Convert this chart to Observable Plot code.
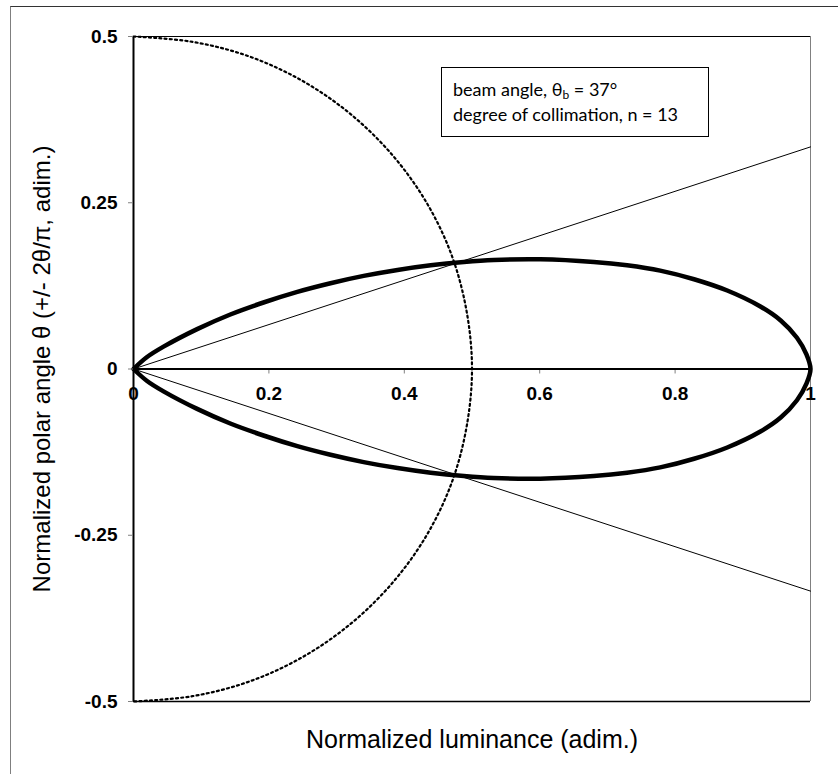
<!DOCTYPE html>
<html>
<head>
<meta charset="utf-8">
<script src="https://cdn.jsdelivr.net/npm/d3@7"></script>
<script src="https://cdn.jsdelivr.net/npm/@observablehq/plot@0.6"></script>
<style>
  html, body { margin: 0; padding: 0; background: #fff; overflow: hidden; }
  #wrap { position: relative; width: 838px; height: 774px; }
  #outer { position: absolute; left: 10px; top: 6px; width: 900px; height: 900px;
           border-left: 1px solid #7f7f7f; border-top: 1px solid #333; box-sizing: border-box; pointer-events: none; }
  #legend { position: absolute; left: 441px; top: 67px; width: 268px; height: 70px; box-sizing: border-box;
            border: 1px solid #000; background: #fff; font-family: Lato, "Open Sans", sans-serif; font-size: 18px;
            color: #000; padding: 9px 0 0 11px; line-height: 25px; }
  #legend sub { font-size: 12px; vertical-align: -3px; line-height: 0; }
  svg g[aria-label="y-axis tick"] { stroke: #808080; }
</style>
</head>
<body>
<div id="wrap">
  <div id="outer"></div>
  <div id="chart"></div>
  <div id="legend"></div>
</div>
<script>
// ---- data ----
const xTicks = [0, 0.2, 0.4, 0.6, 0.8, 1];
const yTicks = [0.5, 0.25, 0, -0.25, -0.5];
const xTitle = "Normalized luminance (adim.)";
const yTitle = "Normalized polar angle θ (+/- 2θ/π, adim.)";
const beamAngle = 37;
const collimation = 13;

// thick lobe, upper half (luminance x, normalized angle y)
const upperX = [0, 0.02, 0.045, 0.094, 0.143, 0.192, 0.242, 0.291, 0.340, 0.390, 0.439, 0.488, 0.532, 0.601, 0.680, 0.729, 0.778, 0.828, 0.877, 0.926, 0.956, 0.980, 0.994, 1.0];
const upperY = [0, 0.018, 0.034, 0.060, 0.082, 0.100, 0.116, 0.129, 0.140, 0.149, 0.156, 0.161, 0.164, 0.165, 0.161, 0.156, 0.148, 0.135, 0.118, 0.094, 0.073, 0.047, 0.022, 0];
// lower half
const lowerX = [0, 0.02, 0.045, 0.094, 0.143, 0.192, 0.242, 0.291, 0.340, 0.390, 0.439, 0.488, 0.532, 0.601, 0.680, 0.729, 0.778, 0.828, 0.877, 0.926, 0.956, 0.980, 0.994, 1.0];
const lowerY = [0, -0.018, -0.034, -0.060, -0.082, -0.100, -0.116, -0.129, -0.140, -0.149, -0.156, -0.161, -0.164, -0.165, -0.161, -0.156, -0.148, -0.135, -0.118, -0.094, -0.073, -0.047, -0.022, 0];

// dotted half circle (radius 0.5)
const circleX = [0, 0.087, 0.171, 0.250, 0.321, 0.383, 0.433, 0.470, 0.492, 0.500, 0.492, 0.470, 0.433, 0.383, 0.321, 0.250, 0.171, 0.087, 0];
const circleY = [0.5, 0.492, 0.470, 0.433, 0.383, 0.321, 0.250, 0.171, 0.087, 0, -0.087, -0.171, -0.250, -0.321, -0.383, -0.433, -0.470, -0.492, -0.5];

// beam angle lines
const beamX = [0, 1];
const beamUpY = [0, 0.334];
const beamDownY = [0, -0.334];

// ---- build tables ----
const lobe = [
  ...lowerX.map((x, i) => ({x, y: lowerY[i]})),
  ...upperX.map((x, i) => ({x, y: upperY[i]})).reverse().slice(1)
];
const circle = circleX.map((x, i) => ({x, y: circleY[i]}));
const beamUp = beamX.map((x, i) => ({x, y: beamUpY[i]}));
const beamDown = beamX.map((x, i) => ({x, y: beamDownY[i]}));

const plot = Plot.plot({
  width: 838,
  height: 774,
  marginLeft: 133,
  marginRight: 28,
  marginTop: 36,
  marginBottom: 73,
  x: {domain: [0, 1], axis: null},
  y: {domain: [-0.5, 0.5], axis: null},
  style: {fontFamily: "'Liberation Sans', Arial, sans-serif", background: "transparent", color: "#000", overflow: "visible"},
  marks: [
    Plot.ruleX([1], {stroke: "#808080", strokeWidth: 1}),
    Plot.ruleY([0.5], {stroke: "#000", strokeWidth: 1}),
    Plot.ruleY([-0.5], {stroke: "#000", strokeWidth: 1.5}),
    Plot.ruleX(xTicks.slice(1, -1), {y1: 0, y2: -0.0075, stroke: "#808080", strokeWidth: 1}),
    Plot.line(circle, {x: "x", y: "y", curve: "catmull-rom", stroke: "#000", strokeWidth: 2.2, strokeDasharray: "2 3.2"}),
    Plot.line(beamUp, {x: "x", y: "y", stroke: "#000", strokeWidth: 1}),
    Plot.line(beamDown, {x: "x", y: "y", stroke: "#000", strokeWidth: 1}),
    Plot.line(lobe, {x: "x", y: "y", curve: "catmull-rom", stroke: "#000", strokeWidth: 4.5, strokeLinejoin: "round"}),
    Plot.ruleY([0], {stroke: "#000", strokeWidth: 2}),
    Plot.ruleX([0], {stroke: "#000", strokeWidth: 2}),
    Plot.axisY(yTicks, {tickSize: 5, tickPadding: 11, tickFormat: d => String(d), fontSize: 19, fontWeight: "bold", label: null}),
    Plot.text(xTicks, {x: d => d, y: 0, dy: 25, text: d => String(d), fontSize: 19, fontWeight: "bold", lineAnchor: "middle"}),
    Plot.text([xTitle], {frameAnchor: "bottom", dy: 38, text: d => d, fontSize: 25, textAnchor: "middle", lineAnchor: "middle"}),
    Plot.text([yTitle], {frameAnchor: "left", dx: -91, rotate: -90, text: d => d, fontSize: 24, textAnchor: "middle", lineAnchor: "middle"})
  ]
});
document.getElementById("chart").appendChild(plot);

document.getElementById("legend").innerHTML =
  `beam angle, θ<sub>b</sub> = ${beamAngle}°<br>degree of collimation, n = ${collimation}`;
</script>
</body>
</html>
